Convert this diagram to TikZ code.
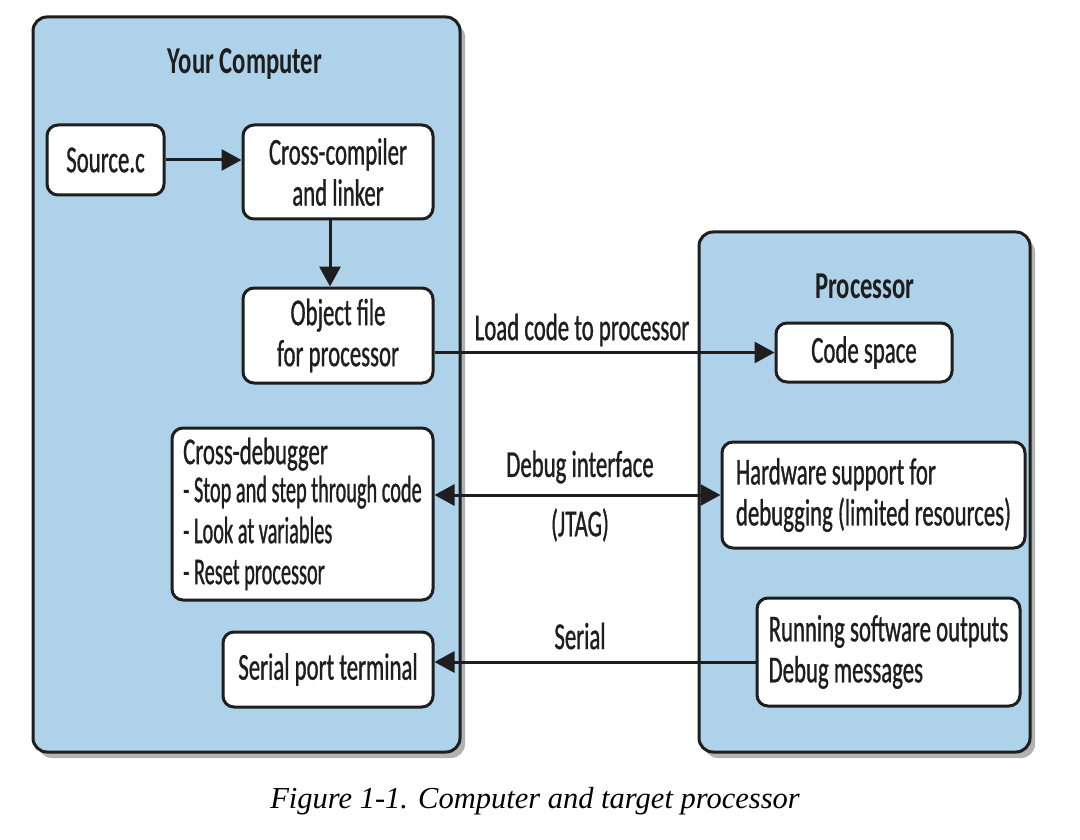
\documentclass[tikz,border=0pt]{standalone}
\usepackage{fontspec}
\setmainfont[FakeStretch=0.6,FakeBold=0.8]{Carlito}
\newfontfamily\dbgfont[FakeStretch=0.535,FakeBold=0.8]{Carlito}
\newfontfamily\titlefont[FakeStretch=0.65]{Carlito Bold}
\newfontfamily\capfont{Liberation Serif}
\usetikzlibrary{arrows.meta,shadows}
\definecolor{boxblue}{RGB}{174,210,233}
\definecolor{ink}{RGB}{30,30,30}
\newcommand\diagtxt{\fontsize{38}{41}\selectfont}
\tikzset{
  bigbox/.style={draw=ink, line width=3pt, fill=boxblue, rounded corners=14pt,
    drop shadow={shadow xshift=5pt, shadow yshift=-6pt, fill=black, opacity=0.3}},
  wbox/.style={draw=ink, line width=3pt, fill=white, rounded corners=11pt,
    inner sep=0pt, align=center, font=\diagtxt, text=ink},
  lbox/.style={wbox, align=left},
  title/.style={font=\titlefont\diagtxt, text=ink},
  lbl/.style={font=\diagtxt, text=ink},
  arr/.style={draw=ink, line width=3pt, -{Triangle[length=20pt,width=21pt]}},
  darr/.style={draw=ink, line width=3pt, {Triangle[length=20pt,width=21pt]}-{Triangle[length=20pt,width=21pt]}}
}
\begin{document}
\begin{tikzpicture}[x=1pt,y=-1pt]
\useasboundingbox[fill=white] (0,0) rectangle (1080,840);
% big boxes
\node[bigbox, minimum width=427pt, minimum height=735pt] (comp) at (246.5,384.5) {};
\node[bigbox, minimum width=331pt, minimum height=520pt] (proc) at (864.5,492) {};
\node[title] (comptitle) at (245,64) {Your Computer};
\node[title] (proctitle) at (865,286) {Processor};
% left boxes
\node[wbox, minimum width=117pt, minimum height=70pt] (src) at (105.5,160) {Source.c};
\node[wbox, minimum width=190pt, minimum height=94pt] (cc) at (338,172) {Cross-compiler\\and linker};
\node[wbox, minimum width=190pt, minimum height=95pt] (obj) at (338,335.5) {Object file\\for processor};
\node[lbox, minimum width=261pt, minimum height=172pt] (dbg) at (302.5,514) {\raisebox{-3pt}{Cross-debugger}\\{\dbgfont - Stop and step through code}\\{\dbgfont - Look at variables}\\{\dbgfont - Reset processor}};
\node[wbox, minimum width=210pt, minimum height=75pt] (ser) at (328,669.5) {Serial port terminal};
% right boxes
\node[wbox, minimum width=176pt, minimum height=59pt] (code) at (864,352.5) {Code space};
\node[lbox, minimum width=303pt, minimum height=106pt] (hw) at (873.5,495) {Hardware support for\\debugging (limited resources)};
\node[lbox, minimum width=263pt, minimum height=108pt] (run) at (888.5,652) {Running software outputs\\Debug messages};
% connectors
\draw[arr] (src.east) -- (src.east -| cc.west);
\draw[arr] ([xshift=-8pt]cc.south) -- ([xshift=-8pt]obj.north);
\draw[arr] (code.west -| obj.east) -- (code.west);
\draw[darr] (hw.west -| dbg.east) -- (hw.west);
\draw[arr] ([yshift=-10pt]run.west) -- ([yshift=-10pt]run.west -| ser.east);
% labels
\node[lbl] (l1) at (582,330) {Load code to processor};
\node[lbl] (l2) at (580,467) {Debug interface};
\node[lbl] (l3) at (580,525) {(JTAG)};
\node[lbl] (l4) at (580,636) {Serial};
% caption
\node[font=\capfont\itshape\fontsize{30.5}{33}\selectfont] (cap) at (535,801) {Figure 1-1. Computer and target processor};
\end{tikzpicture}
\end{document}
